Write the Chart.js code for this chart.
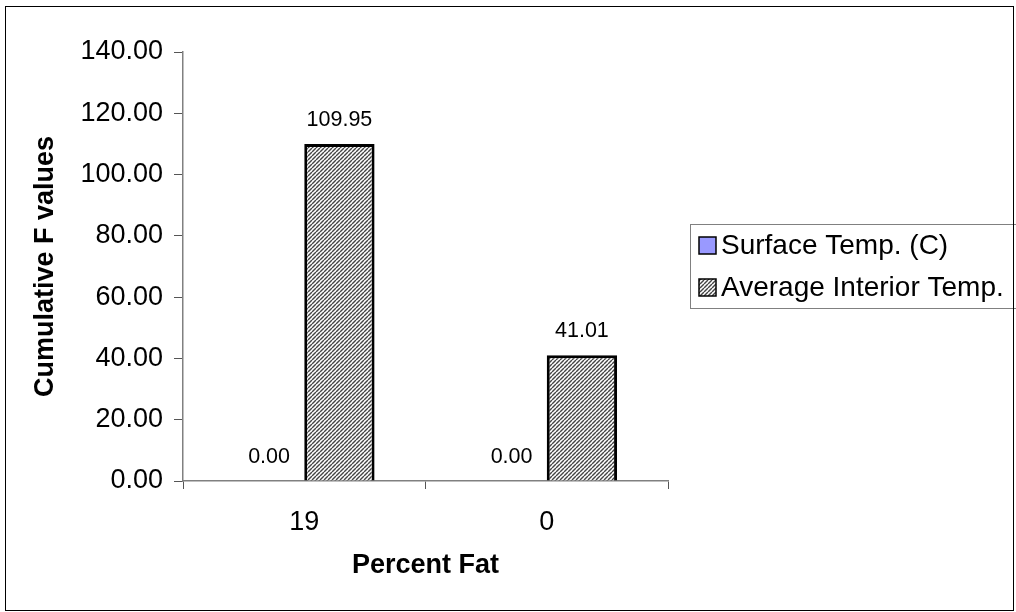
<!DOCTYPE html>
<html>
<head>
<meta charset="utf-8">
<script src="https://cdn.jsdelivr.net/npm/chart.js@4.4.1/dist/chart.umd.min.js"></script>
<style>
  body { margin: 0; background: #fff; }
  #wrap { position: relative; width: 1016px; height: 612px; overflow: hidden; }
  #frame { position: absolute; left: 5px; top: 6px; width: 1007px; height: 603px; border: 1px solid #000; pointer-events: none; }
</style>
</head>
<body>
<div id="wrap">
  <canvas id="chart" width="1016" height="612"></canvas>
  <div id="frame"></div>
</div>
<script>
const categories = ['19', '0'];
const surfaceTemp = [0.00, 0.00];
const interiorTemp = [109.95, 41.01];
const seriesNames = ['Surface Temp. (C)', 'Average Interior Temp.'];
const yTicks = [0, 20, 40, 60, 80, 100, 120, 140];

// hatch fill, "/" lines
function makeHatch() {
    const c = document.createElement('canvas');
    c.width = 4; c.height = 4;
    const g = c.getContext('2d');
    g.fillStyle = '#ffffff';
    g.fillRect(0, 0, 4, 4);
    g.strokeStyle = '#444';
    g.lineWidth = 1.4;
    for (let k = -4; k <= 8; k += 4) {
        g.beginPath();
        g.moveTo(k, 4);
        g.lineTo(k + 4, 0);
        g.stroke();
    }
    return g.createPattern(c, 'repeat');
}

const ctx = document.getElementById('chart').getContext('2d');
const hatch = makeHatch();
const FONT = 'Liberation Sans, Arial, sans-serif';

const valueLabels = {
    id: 'valueLabels',
    afterDatasetsDraw(chart) {
        const c = chart.ctx;
        c.save();
        c.font = '21.5px ' + FONT;
        c.fillStyle = '#000';
        c.textAlign = 'center';
        c.textBaseline = 'middle';
        chart.data.datasets.forEach((ds, i) => {
            chart.getDatasetMeta(i).data.forEach((bar, j) => {
                c.fillText(ds.data[j].toFixed(2), bar.x, bar.y - 24);
            });
        });
        c.restore();
    }
};

const boxLegend = {
    id: 'boxLegend',
    afterDraw(chart) {
        const c = chart.ctx;
        const left = 690, top = 224, bottom = 308;
        c.save();
        c.strokeStyle = '#808080';
        c.lineWidth = 1;
        c.strokeRect(left + 0.5, top + 0.5, 400, bottom - top);
        c.font = '28px ' + FONT;
        c.textBaseline = 'middle';
        chart.data.datasets.forEach((ds, i) => {
            const y = 245 + i * 42;
            c.fillStyle = ds.backgroundColor;
            c.fillRect(699, y - 8, 17, 17);
            c.strokeStyle = '#000';
            c.lineWidth = 1.5;
            c.strokeRect(699, y - 8, 17, 17);
            c.fillStyle = '#000';
            c.fillText(ds.label, 721, y + 1);
        });
        c.restore();
    }
};

new Chart(ctx, {
    type: 'bar',
    data: {
        labels: categories,
        datasets: [
            { label: seriesNames[0], data: surfaceTemp, backgroundColor: '#9999ff', borderColor: '#000', borderWidth: 0 },
            { label: seriesNames[1], data: interiorTemp, backgroundColor: hatch, borderColor: '#000', borderWidth: 3 }
        ]
    },
    options: {
        responsive: false,
        animation: false,
        layout: { padding: { top: 52, right: 348, left: 0, bottom: 0 } },
        datasets: { bar: { categoryPercentage: 0.58, barPercentage: 1.0 } },
        plugins: { legend: { display: false }, tooltip: { enabled: false } },
        scales: {
            x: {
                afterFit: s => { s.height = 131; },
                grid: { offset: true, drawOnChartArea: false, tickLength: 8, color: '#555' },
                border: { color: '#808080', width: 1.5 },
                ticks: { color: '#000', font: { family: FONT, size: 27 }, padding: 17 },
                title: { display: true, text: 'Percent Fat', color: '#000', font: { family: FONT, size: 27, weight: 'bold' }, padding: { top: 0, bottom: 30 } }
            },
            y: {
                min: 0, max: 140,
                afterFit: s => { s.width = 183; },
                afterBuildTicks: s => { s.ticks = yTicks.map(v => ({ value: v })); },
                grid: { drawOnChartArea: false, tickLength: 9, color: '#555' },
                border: { color: '#808080', width: 1.5 },
                ticks: { color: '#000', font: { family: FONT, size: 27 }, padding: 11, callback: v => v.toFixed(2) },
                title: { display: true, text: 'Cumulative F values', color: '#000', font: { family: FONT, size: 27, weight: 'bold' }, padding: { top: 29, bottom: 0 } }
            }
        }
    },
    plugins: [valueLabels, boxLegend]
});
</script>
</body>
</html>
